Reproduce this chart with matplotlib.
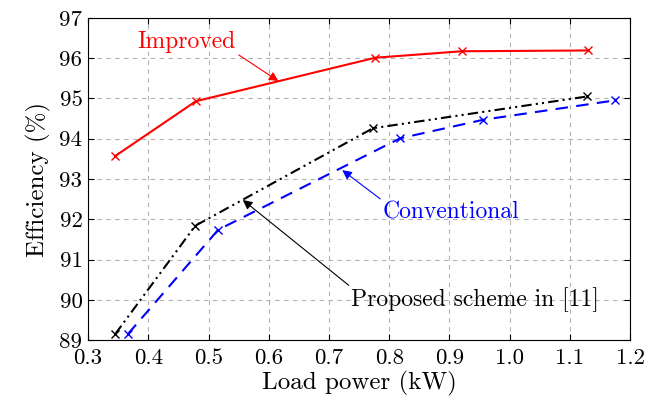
import matplotlib.pyplot as plt
import numpy as np

plt.rcParams['font.family'] = 'serif'
plt.rcParams['font.serif'] = ['cmr10']
plt.rcParams['mathtext.fontset'] = 'cm'
plt.rcParams['axes.formatter.use_mathtext'] = True

# Load power (kW) and efficiency (%)
x_improved = [0.345, 0.479, 0.777, 0.920, 1.130]
y_improved = [93.57, 94.93, 96.01, 96.17, 96.19]

x_proposed = [0.345, 0.478, 0.773, 1.129]
y_proposed = [89.15, 91.84, 94.26, 95.05]

x_conv = [0.366, 0.516, 0.818, 0.956, 1.174]
y_conv = [89.15, 91.74, 94.01, 94.47, 94.95]

xticks = [0.3, 0.4, 0.5, 0.6, 0.7, 0.8, 0.9, 1.0, 1.1, 1.2]
yticks = [89, 90, 91, 92, 93, 94, 95, 96, 97]

fig = plt.figure(figsize=(6.62, 4.05), dpi=100)
ax = fig.add_axes([0.133, 0.160, 0.819, 0.796])

ax.plot(x_improved, y_improved, color='red', lw=1.5, marker='x', ms=6, mew=1.0)
ax.plot(x_proposed, y_proposed, color='black', lw=1.5, marker='x', ms=6, mew=1.0,
        dashes=[5, 2, 1, 2, 1, 2])
ax.plot(x_conv, y_conv, color='blue', lw=1.5, marker='x', ms=6, mew=1.0,
        dashes=[6, 4])

ax.set_xlim(0.3, 1.2)
ax.set_ylim(89, 97)
ax.set_xticks(xticks)
ax.set_xticklabels(['%.1f' % v for v in xticks])
ax.set_yticks(yticks)
ax.set_yticklabels([str(v) for v in yticks])
ax.tick_params(direction='in', top=True, right=True, labelsize=16.5, length=4.5)
ax.tick_params(axis='y', pad=4)
ax.tick_params(axis='x', pad=6)
ax.grid(True, color='#b3b3b3', linestyle=(0, (4, 4)), lw=0.8)

ax.set_xlabel('Load power (kW)', fontsize=18, labelpad=2)
ax.set_ylabel('Efficiency (%)', fontsize=18, labelpad=6)

arrow = dict(arrowstyle='-|>', lw=0.8, shrinkA=0, shrinkB=0, mutation_scale=14)
ax.annotate('Improved', xy=(0.616, 95.43), xytext=(0.464, 96.4), color='red',
            fontsize=17, ha='center', va='center',
            arrowprops=dict(arrow, color='red', relpos=(1.0, 0.0)))
ax.annotate('Conventional', xy=(0.722, 93.22), xytext=(0.903, 92.18), color='blue',
            fontsize=17, ha='center', va='center',
            arrowprops=dict(arrow, color='blue', relpos=(0.0, 1.0)))
ax.annotate('Proposed scheme in [11]', xy=(0.557, 92.48), xytext=(0.943, 90.0),
            color='black', fontsize=17, ha='center', va='center',
            arrowprops=dict(arrow, color='black', relpos=(0.0, 1.0)))

fig.savefig('out.png', dpi=100)
